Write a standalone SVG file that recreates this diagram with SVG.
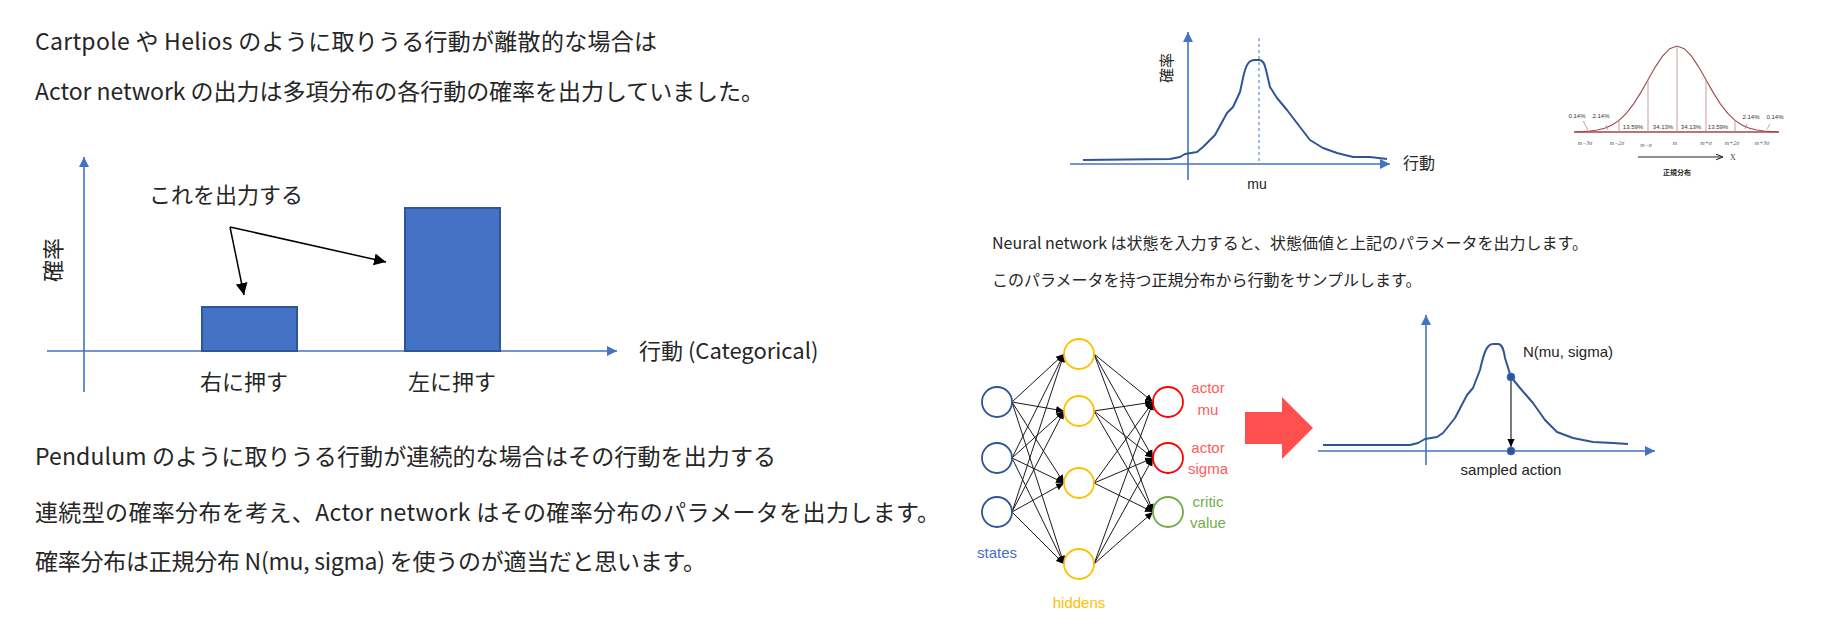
<svg xmlns="http://www.w3.org/2000/svg" width="1824" height="635" viewBox="0 0 1824 635">
<style>
.jp{font-family:"Noto Sans CJK JP","Noto Sans",sans-serif;fill:#262626}
.lat{font-family:"Liberation Sans",Arial,sans-serif}
.axis{stroke:#4472C4;stroke-width:1.6;fill:none}
.curve{stroke:#2F5597;stroke-width:2;fill:none;stroke-linejoin:round}
.edge{stroke:#1a1a1a;stroke-width:1;fill:none}
.nd{fill:#fff;stroke-width:1.8}
.tiny{font-family:"Liberation Sans",Arial,sans-serif;font-size:6px;fill:#333}
.sig{font-family:"Liberation Serif",serif;font-style:italic;font-size:6px;fill:#555}
</style>
<defs>
<marker id="ab" viewBox="0 0 10 10" refX="10" refY="5" markerWidth="10" markerHeight="10" markerUnits="userSpaceOnUse" orient="auto"><path d="M0,0 L10,5 L0,10 Z" fill="#4472C4"/></marker>
<marker id="ak" viewBox="0 0 10 10" refX="10" refY="5" markerWidth="12" markerHeight="12" markerUnits="userSpaceOnUse" orient="auto"><path d="M0,0 L10,5 L0,10 Z" fill="#000"/></marker>
<marker id="an" viewBox="0 0 10 10" refX="10" refY="5" markerWidth="8" markerHeight="8" markerUnits="userSpaceOnUse" orient="auto"><path d="M0,0.5 L10,5 L0,9.5 Z" fill="#000"/></marker>
<marker id="ao" viewBox="0 0 10 10" refX="10" refY="5" markerWidth="7" markerHeight="7" markerUnits="userSpaceOnUse" orient="auto"><path d="M0,1 L10,5 L0,9" fill="none" stroke="#222" stroke-width="1.5"/></marker>
</defs>

<g id="text-left">
<text class="jp" x="35" y="50" font-size="23" textLength="622">Cartpole や Helios のように取りうる行動が離散的な場合は</text>
<text class="jp" x="35" y="100" font-size="23" textLength="729">Actor network の出力は多項分布の各行動の確率を出力していました。</text>
<text class="jp" x="35" y="465" font-size="23" textLength="741">Pendulum のように取りうる行動が連続的な場合はその行動を出力する</text>
<text class="jp" x="35" y="521" font-size="23" textLength="905">連続型の確率分布を考え、Actor network はその確率分布のパラメータを出力します。</text>
<text class="jp" x="35" y="570" font-size="23" textLength="671">確率分布は正規分布 N(mu, sigma) を使うのが適当だと思います。</text>
</g>

<g id="bar-chart">
<line class="axis" x1="84" y1="392" x2="84" y2="157" marker-end="url(#ab)"/>
<line class="axis" x1="47" y1="351" x2="617" y2="351" marker-end="url(#ab)"/>
<rect x="202" y="307" width="95" height="44" fill="#4472C4" stroke="#2F5597" stroke-width="2"/>
<rect x="405" y="208" width="95" height="143" fill="#4472C4" stroke="#2F5597" stroke-width="2"/>
<text class="jp" x="149" y="203" font-size="22">これを出力する</text>
<text class="jp" font-size="22" transform="translate(61,260) rotate(-90)" text-anchor="middle">確率</text>
<text class="jp" x="639" y="359" font-size="22">行動 (Categorical)</text>
<text class="jp" x="244" y="390" font-size="22" text-anchor="middle">右に押す</text>
<text class="jp" x="452" y="390" font-size="22" text-anchor="middle">左に押す</text>
</g>
<g id="bar-annotation">
<line x1="230" y1="227" x2="244" y2="295" stroke="#000" stroke-width="1.5" marker-end="url(#ak)"/>
<line x1="230" y1="227" x2="386" y2="262" stroke="#000" stroke-width="1.5" marker-end="url(#ak)"/>
</g>

<g id="top-plot">
<line class="axis" x1="1188" y1="180" x2="1188" y2="32" marker-end="url(#ab)"/>
<line class="axis" x1="1070" y1="164" x2="1390" y2="164" marker-end="url(#ab)"/>
<line x1="1259" y1="38" x2="1259" y2="164" stroke="#4472C4" stroke-width="1" stroke-dasharray="3,3"/>
<path class="curve" d="M1083,160 L1170,159 L1180,157 L1185,154 L1197,152 L1203,147 L1215,135 L1227,113 L1233,107 L1240,92 L1243,78 C1246,64 1249,60 1255,60 L1259,60 C1264,60 1265,66 1266,70 L1270,87 L1277,98 L1287,110 L1300,127 L1310,140 L1323,148 L1337,153 L1353,157 L1370,157 L1387,159"/>
<text class="jp" font-size="15" transform="translate(1172,68) rotate(-90)" text-anchor="middle">確率</text>
<text class="jp" x="1403" y="169" font-size="16">行動</text>
<text class="lat" x="1257" y="189" font-size="14" text-anchor="middle" fill="#222">mu</text>
</g>

<g id="normal-distribution">
<line x1="1574" y1="132" x2="1779" y2="132" stroke="#A0464E" stroke-width="1.3"/>
<path d="M1575.5,131.8 L1582.75,131.6 L1590,131 L1597.25,130 L1604.5,128.2 L1611.75,125.2 L1619,120.4 L1626.25,113.4 L1633.5,104.1 L1640.75,92.6 L1648,79.8 L1655.25,67.1 L1662.5,56.1 L1669.75,48.65 L1677,46 L1684.25,48.65 L1691.5,56.1 L1698.75,67.1 L1706,79.8 L1713.25,92.6 L1720.5,104.1 L1727.75,113.4 L1735,120.4 L1742.25,125.2 L1749.5,128.2 L1756.75,130 L1764,131 L1771.25,131.6 L1778.5,131.8" fill="none" stroke="#A0464E" stroke-width="1.1"/>
<g stroke="#C08088" stroke-width="0.8">
<line x1="1619" y1="132" x2="1619" y2="120.4"/>
<line x1="1648" y1="132" x2="1648" y2="79.8"/>
<line x1="1677" y1="132" x2="1677" y2="46"/>
<line x1="1706" y1="132" x2="1706" y2="79.8"/>
<line x1="1735" y1="132" x2="1735" y2="120.4"/>
<line x1="1583" y1="121" x2="1588" y2="130"/>
<line x1="1606" y1="125" x2="1608" y2="130"/>
<line x1="1747" y1="124" x2="1745" y2="129"/>
<line x1="1770" y1="124" x2="1767" y2="129"/>
</g>
<g text-anchor="middle">
<text class="tiny" x="1577" y="118">0.14%</text>
<text class="tiny" x="1601" y="118">2.14%</text>
<text class="tiny" x="1633" y="129">13.59%</text>
<text class="tiny" x="1663" y="129">34.13%</text>
<text class="tiny" x="1691" y="129">34.13%</text>
<text class="tiny" x="1718" y="129">13.59%</text>
<text class="tiny" x="1751" y="119">2.14%</text>
<text class="tiny" x="1775" y="119">0.14%</text>
<text class="sig" x="1585" y="145">m−3σ</text>
<text class="sig" x="1617" y="145">m−2σ</text>
<text class="sig" x="1646" y="147">m−σ</text>
<text class="sig" x="1675" y="145">m</text>
<text class="sig" x="1706" y="145">m+σ</text>
<text class="sig" x="1732" y="145">m+2σ</text>
<text class="sig" x="1762" y="145">m+3σ</text>
</g>
<line x1="1638" y1="157" x2="1723" y2="157" stroke="#222" stroke-width="1.2" marker-end="url(#ao)"/>
<text x="1730" y="160" font-family="Liberation Serif,serif" font-size="8" fill="#444">X</text>
<text x="1677" y="175" font-family="Noto Sans CJK JP,sans-serif" font-size="7" font-weight="bold" text-anchor="middle" fill="#222">正規分布</text>
</g>

<g id="text-right">
<text class="jp" x="992" y="249" font-size="16" textLength="596">Neural network は状態を入力すると、状態価値と上記のパラメータを出力します。</text>
<text class="jp" x="992" y="286" font-size="16">このパラメータを持つ正規分布から行動をサンプルします。</text>
</g>

<g id="connectors">
<line class="edge" x1="1012" y1="402" x2="1064" y2="354" marker-end="url(#an)"/>
<line class="edge" x1="1012" y1="402" x2="1064" y2="411" marker-end="url(#an)"/>
<line class="edge" x1="1012" y1="402" x2="1064" y2="483" marker-end="url(#an)"/>
<line class="edge" x1="1012" y1="402" x2="1064" y2="564" marker-end="url(#an)"/>
<line class="edge" x1="1012" y1="458" x2="1064" y2="354" marker-end="url(#an)"/>
<line class="edge" x1="1012" y1="458" x2="1064" y2="411" marker-end="url(#an)"/>
<line class="edge" x1="1012" y1="458" x2="1064" y2="483" marker-end="url(#an)"/>
<line class="edge" x1="1012" y1="458" x2="1064" y2="564" marker-end="url(#an)"/>
<line class="edge" x1="1012" y1="512" x2="1064" y2="354" marker-end="url(#an)"/>
<line class="edge" x1="1012" y1="512" x2="1064" y2="411" marker-end="url(#an)"/>
<line class="edge" x1="1012" y1="512" x2="1064" y2="483" marker-end="url(#an)"/>
<line class="edge" x1="1012" y1="512" x2="1064" y2="564" marker-end="url(#an)"/>
<line class="edge" x1="1094" y1="354" x2="1153" y2="402" marker-end="url(#an)"/>
<line class="edge" x1="1094" y1="354" x2="1153" y2="458" marker-end="url(#an)"/>
<line class="edge" x1="1094" y1="354" x2="1153" y2="512" marker-end="url(#an)"/>
<line class="edge" x1="1094" y1="411" x2="1153" y2="402" marker-end="url(#an)"/>
<line class="edge" x1="1094" y1="411" x2="1153" y2="458" marker-end="url(#an)"/>
<line class="edge" x1="1094" y1="411" x2="1153" y2="512" marker-end="url(#an)"/>
<line class="edge" x1="1094" y1="483" x2="1153" y2="402" marker-end="url(#an)"/>
<line class="edge" x1="1094" y1="483" x2="1153" y2="458" marker-end="url(#an)"/>
<line class="edge" x1="1094" y1="483" x2="1153" y2="512" marker-end="url(#an)"/>
<line class="edge" x1="1094" y1="564" x2="1153" y2="402" marker-end="url(#an)"/>
<line class="edge" x1="1094" y1="564" x2="1153" y2="458" marker-end="url(#an)"/>
<line class="edge" x1="1094" y1="564" x2="1153" y2="512" marker-end="url(#an)"/>
</g>

<g id="state-1"><circle class="nd" cx="997" cy="402" r="15" stroke="#2F5597"/></g>
<g id="state-2"><circle class="nd" cx="997" cy="458" r="15" stroke="#2F5597"/></g>
<g id="state-3"><circle class="nd" cx="997" cy="512" r="15" stroke="#2F5597"/></g>
<g id="states-label"><text class="lat" x="997" y="558" font-size="15" fill="#4472C4" text-anchor="middle">states</text></g>
<g id="hidden-1"><circle class="nd" cx="1079" cy="354" r="15" stroke="#FFC000"/></g>
<g id="hidden-2"><circle class="nd" cx="1079" cy="411" r="15" stroke="#FFC000"/></g>
<g id="hidden-3"><circle class="nd" cx="1079" cy="483" r="15" stroke="#FFC000"/></g>
<g id="hidden-4"><circle class="nd" cx="1079" cy="564" r="15" stroke="#FFC000"/></g>
<g id="hiddens-label"><text class="lat" x="1079" y="608" font-size="15" fill="#FFC000" text-anchor="middle">hiddens</text></g>
<g id="actor-mu"><circle class="nd" cx="1168" cy="402" r="15" stroke="#FF0000"/>
<text class="lat" x="1208" y="393" font-size="15" fill="#FF5B5B" text-anchor="middle">actor</text>
<text class="lat" x="1208" y="415" font-size="15" fill="#FF5B5B" text-anchor="middle">mu</text></g>
<g id="actor-sigma"><circle class="nd" cx="1168" cy="458" r="15" stroke="#FF0000"/>
<text class="lat" x="1208" y="453" font-size="15" fill="#FF5B5B" text-anchor="middle">actor</text>
<text class="lat" x="1208" y="474" font-size="15" fill="#FF5B5B" text-anchor="middle">sigma</text></g>
<g id="critic-value"><circle class="nd" cx="1168" cy="512" r="15" stroke="#70AD47"/>
<text class="lat" x="1208" y="507" font-size="15" fill="#70AD47" text-anchor="middle">critic</text>
<text class="lat" x="1208" y="528" font-size="15" fill="#70AD47" text-anchor="middle">value</text></g>

<g id="block-arrow"><path d="M1245,412 L1282,412 L1282,397 L1313,428 L1282,459 L1282,444 L1245,444 Z" fill="#FF5050"/></g>

<g id="bottom-plot">
<line class="axis" x1="1426" y1="465" x2="1426" y2="315" marker-end="url(#ab)"/>
<line class="axis" x1="1318" y1="451" x2="1655" y2="451" marker-end="url(#ab)"/>
<path class="curve" d="M1323,445 L1410,445 L1418,443 L1425,439 L1437,437 L1443,433 L1455,418 L1467,395 L1473,388 L1480,370 C1484,352 1487,344 1493,344 L1498,344 C1503,344 1504,352 1505,358 L1511,377 L1520,388 L1533,403 L1545,420 L1557,432 L1573,438 L1593,442 L1613,443 L1628,444"/>
<line x1="1511" y1="380" x2="1511" y2="447" stroke="#222" stroke-width="1.2" marker-end="url(#an)"/>
<circle cx="1511" cy="377" r="4" fill="#2F5597" stroke="#4472C4" stroke-width="0.8"/>
<circle cx="1511" cy="451" r="4" fill="#2F5597" stroke="#4472C4" stroke-width="0.8"/>
<text class="lat" x="1523" y="357" font-size="15" fill="#222">N(mu, sigma)</text>
<text class="lat" x="1511" y="475" font-size="15" fill="#222" text-anchor="middle">sampled action</text>
</g>
</svg>
